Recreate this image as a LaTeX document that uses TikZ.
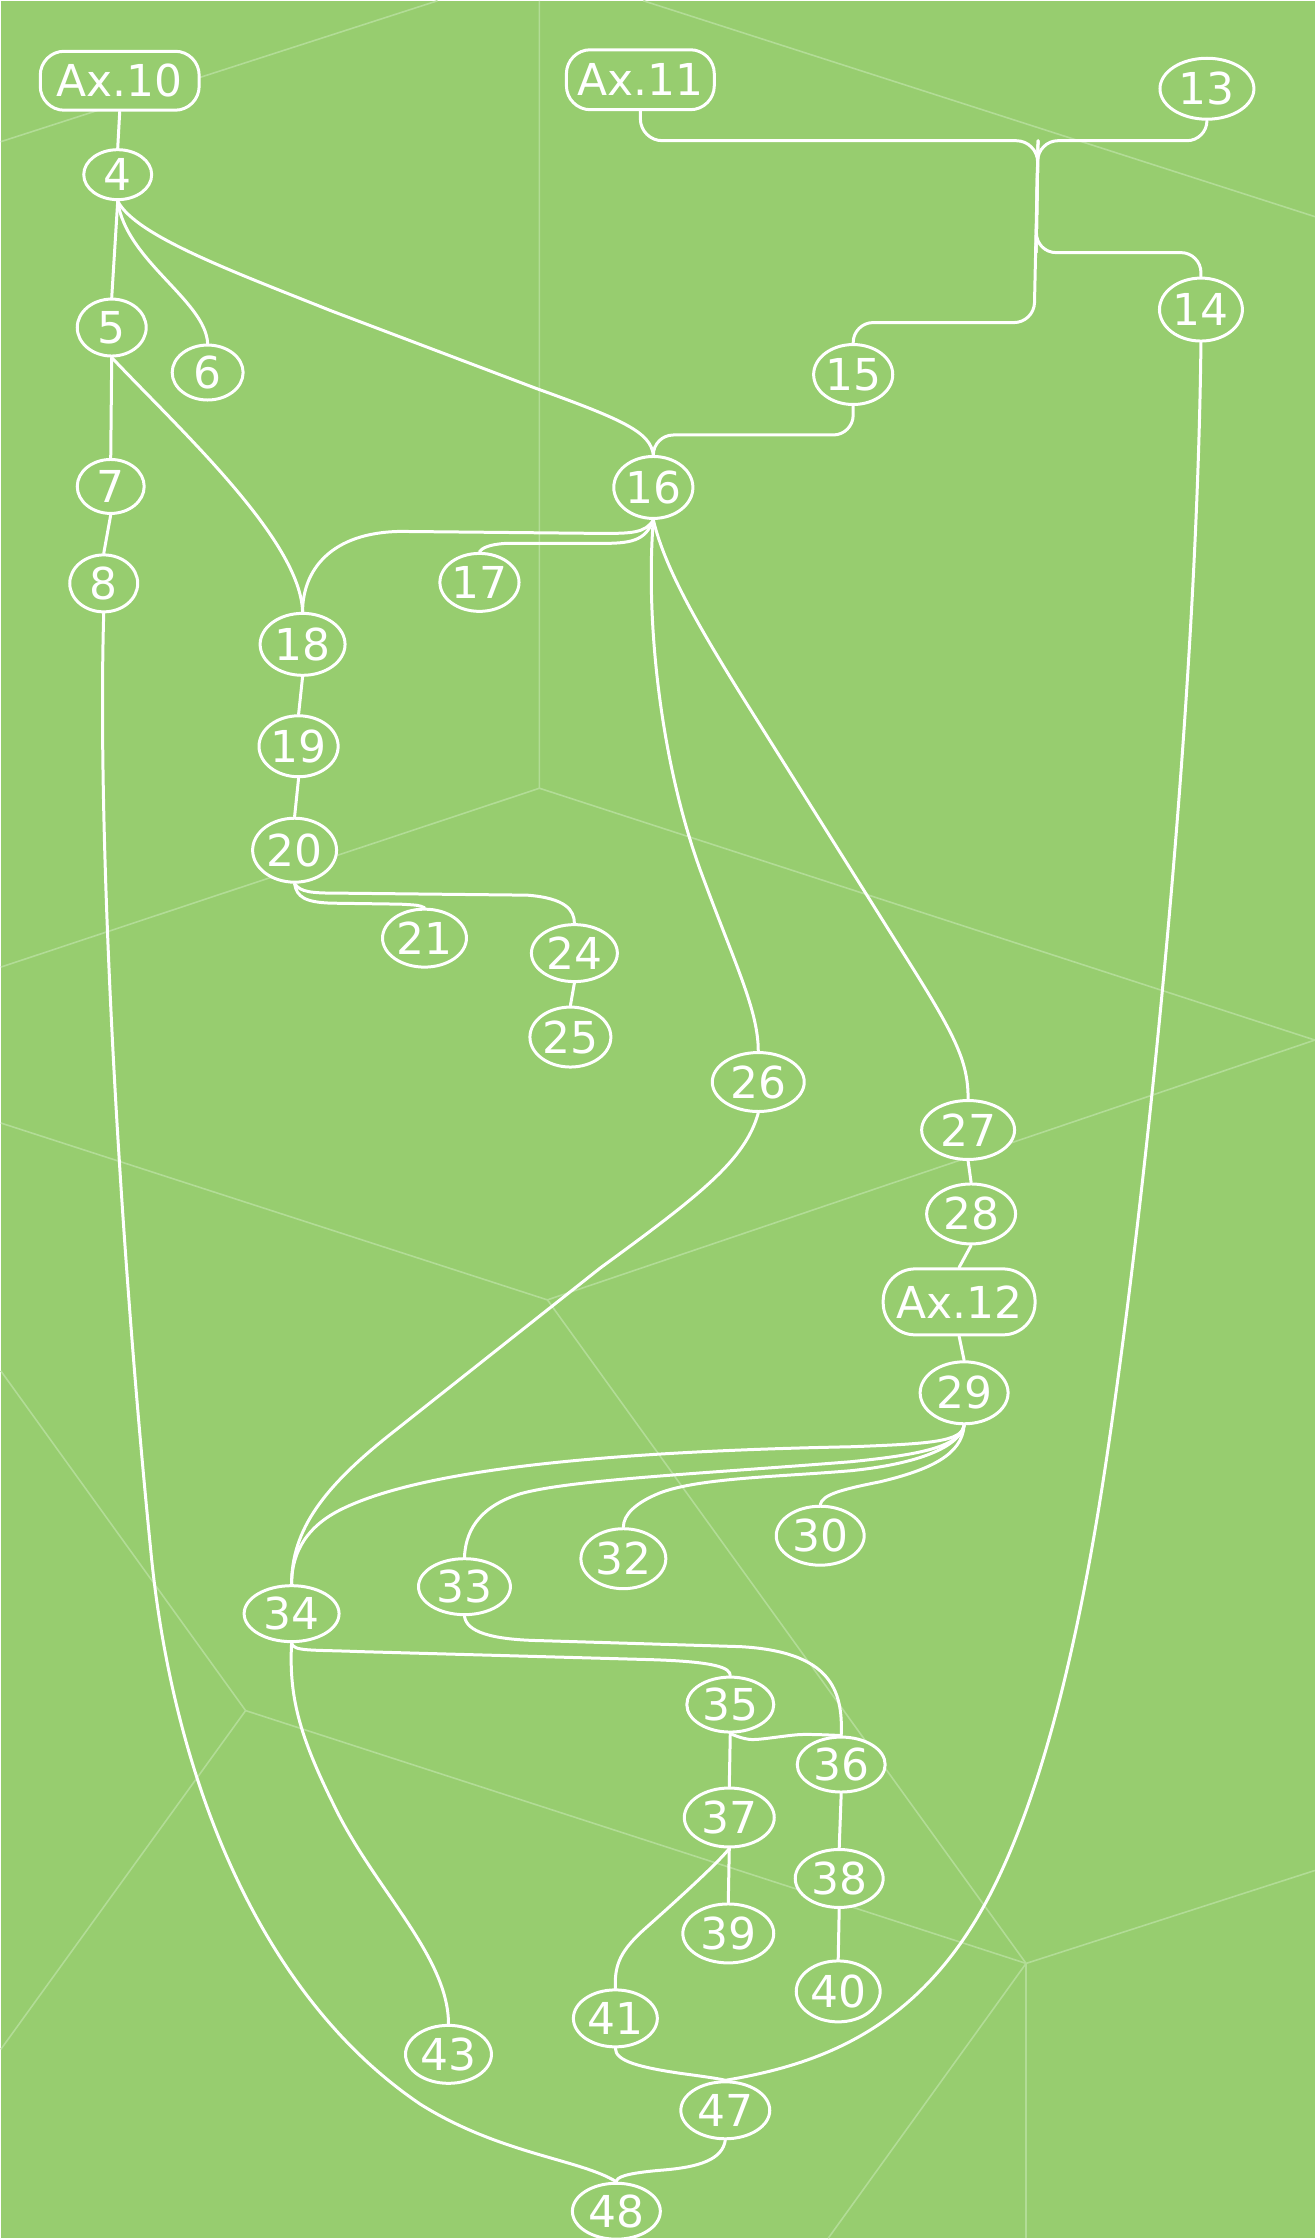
\documentclass[tikz,border=0pt]{standalone}
\usepackage{fontspec}
\setmainfont{DejaVu Sans}
\usetikzlibrary{shapes.geometric}
\definecolor{bg}{RGB}{151,205,111}
\definecolor{faint}{RGB}{178,220,150}
\pgfdeclarelayer{back}
\pgfdeclarelayer{edges}
\pgfsetlayers{back,edges,main}
\begin{document}
\begin{tikzpicture}[x=0.5pt,y=-0.5pt,
  nd/.style={ellipse, draw=white, line width=1.5pt, fill=bg, text=white, inner sep=0pt,
             font=\fontsize{22}{22}\selectfont},
  axn/.style={rectangle, rounded corners=12pt, draw=white, line width=1.5pt, fill=bg, text=white,
             inner sep=0pt, font=\fontsize{22}{22}\selectfont},
  sz/.style n args={2}{minimum width=#1, minimum height=#2},
  ed/.style={draw=white, line width=1.5pt, line cap=round, line join=round},
  sm/.style={smooth, tension=0.5},
  faintline/.style={draw=faint, line width=0.8pt}]
\begin{pgfonlayer}{back}
\fill[bg] (0,0) rectangle (1315,2239);
\draw[faintline] (0,141) -- (437,0);
\draw[faintline] (539,0) -- (539,788) -- (0,967);
\draw[faintline] (539,788) -- (1315,1040);
\draw[faintline] (643,0) -- (1315,216);
\draw[faintline] (0,1123) -- (547,1300) -- (1315,1040);
\draw[faintline] (547,1300) -- (1026,1964);
\draw[faintline] (0,1371) -- (245,1711) -- (0,2050);
\draw[faintline] (245,1711) -- (1026,1964) -- (1315,1871);
\draw[faintline] (1026,1964) -- (828,2239);
\draw[faintline] (1026,1964) -- (1026,2239);
\end{pgfonlayer}
\useasboundingbox (0,0) rectangle (1315,2239);

% nodes
\node[axn, sz={79.5pt}{29.5pt}] (Ax10) at (119,80) {Ax.10};
\node[axn, sz={74pt}{30pt}] (Ax11) at (640,79) {Ax.11};
\node[nd, sz={47pt}{30.5pt}] (n13) at (1207,88) {13};
\node[nd, sz={34pt}{25pt}] (n4) at (117,174) {4};
\node[nd, sz={34.5pt}{28.5pt}] (n5) at (111,327) {5};
\node[nd, sz={35.5pt}{27.5pt}] (n6) at (207,372) {6};
\node[nd, sz={41.5pt}{31.5pt}] (n14) at (1201,309) {14};
\node[nd, sz={39.5pt}{30pt}] (n15) at (853,374) {15};
\node[nd, sz={39.5pt}{31pt}] (n16) at (653,487) {16};
\node[nd, sz={33.5pt}{27pt}] (n7) at (110,486) {7};
\node[nd, sz={34pt}{28.5pt}] (n8) at (103,583) {8};
\node[nd, sz={39pt}{29pt}] (n17) at (479,582) {17};
\node[nd, sz={42.5pt}{31pt}] (n18) at (302,644) {18};
\node[nd, sz={39.5pt}{30.5pt}] (n19) at (298,746) {19};
\node[nd, sz={42pt}{32pt}] (n20) at (294,850) {20};
\node[nd, sz={42pt}{29pt}] (n21) at (424,938) {21};
\node[nd, sz={43pt}{28.5pt}] (n24) at (574,953) {24};
\node[nd, sz={40.5pt}{30pt}] (n25) at (570,1037) {25};
\node[nd, sz={46pt}{29.5pt}] (n26) at (758,1082) {26};
\node[nd, sz={46.5pt}{29.5pt}] (n27) at (968,1130) {27};
\node[nd, sz={44.5pt}{30pt}] (n28) at (971,1214) {28};
\node[axn, rounded corners=16pt, sz={76pt}{33pt}] (Ax12) at (959,1302) {Ax.12};
\node[nd, sz={44pt}{31pt}] (n29) at (964,1393) {29};
\node[nd, sz={44pt}{29.5pt}] (n30) at (820,1536) {30};
\node[nd, sz={42.5pt}{30pt}] (n32) at (623,1559) {32};
\node[nd, sz={46pt}{28pt}] (n33) at (464,1587) {33};
\node[nd, sz={47.5pt}{28pt}] (n34) at (291,1614) {34};
\node[nd, sz={43.5pt}{27.5pt}] (n35) at (730,1705) {35};
\node[nd, sz={44pt}{27.5pt}] (n36) at (841,1765) {36};
\node[nd, sz={45pt}{29.5pt}] (n37) at (729,1818) {37};
\node[nd, sz={44pt}{29pt}] (n38) at (839,1879) {38};
\node[nd, sz={45.5pt}{29.5pt}] (n39) at (728,1934) {39};
\node[nd, sz={42pt}{30.5pt}] (n40) at (838,1992) {40};
\node[nd, sz={42pt}{28.5pt}] (n41) at (615,2019) {41};
\node[nd, sz={43pt}{29pt}] (n43) at (448,2055) {43};
\node[nd, sz={44.5pt}{28.5pt}] (n47) at (725,2111) {47};
\node[nd, sz={44pt}{28pt}] (n48) at (616,2212) {48};

\coordinate (jA) at (1038,140);
\coordinate (jB) at (1036,252);
\coordinate (jC) at (1034,322);

\begin{pgfonlayer}{edges}
% straight links
\draw[ed] (Ax10.south) -- (n4.north);
\draw[ed] (n4.south) -- (n5.north);
\draw[ed] (n5.south) -- (n7.north);
\draw[ed] (n7.south) -- (n8.north);
\draw[ed] (n18.south) -- (n19.north);
\draw[ed] (n19.south) -- (n20.north);
\draw[ed] (n24.south) -- (n25.north);
\draw[ed] (n27.south) -- (n28.north);
\draw[ed] (n28.south) -- (Ax12.north);
\draw[ed] (Ax12.south) -- (n29.north);
\draw[ed] (n35.south) -- (n37.north);
\draw[ed] (n36.south) -- (n38.north);
\draw[ed] (n38.south) -- (n40.north);
\draw[ed] (n37.south) -- (n39.north);
% upper part
\draw[ed] (n4.south) .. controls (125,260) and (205,300) .. (n6.north);
\draw[ed] (n4.south) .. controls (135,235) and (230,270) .. (330,310) -- (536,388)
          .. controls (625,420) and (650,432) .. (n16.north);
\draw[ed, rounded corners=11pt] (Ax11.south) |- (jA) -- (jB);
\draw[ed, rounded corners=10pt] (n13.south) |- (jA) -- (jB);
\draw[ed, rounded corners=10pt] (jA) -- (jB) -| (n14.north);
\draw[ed, rounded corners=10pt] (jA) -- (jC) -| (n15.north);
\draw[ed, rounded corners=10pt] (n15.south) -- ++(0,29) -| (n16.north);
\draw[ed] (n16.south) .. controls (645,533) and (630,533) .. (600,533) -- (400,531)
          .. controls (330,532) and (302,570) .. (n18.north);
\draw[ed] (n16.south) .. controls (645,541) and (630,543) .. (600,543) -- (505,543)
          .. controls (488,544) and (481,548) .. (n17.north);
\draw[ed] (n5.south) .. controls (180,430) and (300,540) .. (n18.north);
\draw[ed] (n20.south) .. controls (296,897) and (305,902) .. (330,903) -- (400,904)
          .. controls (418,905) .. (n21.north);
\draw[ed] (n20.south) .. controls (300,892) and (310,893) .. (340,893) -- (527,895)
          .. controls (565,898) and (574,910) .. (n24.north);
% long curves
\draw[ed] (n8.south) .. controls (96,850) and (120,1250) .. (150,1550)
          .. controls (170,1760) and (250,1990) .. (420,2105)
          .. controls (500,2155) and (580,2160) .. (n48.north);
\draw[ed] (n16.south) .. controls (645,620) and (660,760) .. (700,870)
          .. controls (735,965) and (758,1010) .. (n26.north);
\draw[ed] (n16.south) .. controls (665,570) and (700,630) .. (760,725) -- (900,948)
          .. controls (955,1035) and (968,1060) .. (n27.north);
\draw[ed] (n14.south) .. controls (1197,700) and (1150,1150) .. (1115,1400)
          .. controls (1095,1545) and (1060,1760) .. (990,1895)
          .. controls (920,2030) and (820,2065) .. (n47.north);
\draw[ed] (n26.south) .. controls (745,1160) and (700,1195) .. (600,1268) -- (393,1432)
          .. controls (323,1487) and (291,1530) .. (n34.north);
% fan from 29
\draw[ed] (n29.south) .. controls (962,1442) and (930,1444) .. (850,1447)
          .. controls (600,1452) and (420,1470) .. (340,1510)
          .. controls (300,1530) and (291,1560) .. (n34.north);
\draw[ed] (n29.south) .. controls (960,1447) and (920,1455) .. (850,1462)
          .. controls (700,1474) and (570,1480) .. (520,1494)
          .. controls (475,1508) and (465,1535) .. (n33.north);
\draw[ed] (n29.south) .. controls (958,1450) and (910,1465) .. (850,1471)
          .. controls (780,1477) and (700,1478) .. (660,1493)
          .. controls (635,1503) and (623,1515) .. (n32.north);
\draw[ed] (n29.south) .. controls (962,1455) and (930,1470) .. (880,1482)
          .. controls (840,1490) and (822,1495) .. (n30.north);
% lower part
\draw[ed] (n33.south) .. controls (466,1632) and (490,1640) .. (540,1641) -- (740,1647)
          .. controls (830,1652) and (843,1690) .. (n36.north);
\draw[ed] (n34.south) .. controls (293,1652) and (310,1650) .. (360,1652) -- (650,1660)
          .. controls (715,1662) and (730,1668) .. (n35.north);
\draw[ed] plot[sm] coordinates {(n35.south) (752,1740) (800,1735) (n36.north)};
\draw[ed] (n37.south) .. controls (722,1858) and (700,1880) .. (646,1928)
          .. controls (620,1951) and (614,1965) .. (n41.north);
\draw[ed] (n41.south) .. controls (615,2062) and (640,2068) .. (680,2074)
          .. controls (710,2078) and (722,2080) .. (n47.north);
\draw[ed] (n47.south) .. controls (722,2160) and (700,2168) .. (660,2171)
          .. controls (625,2174) and (616,2178) .. (n48.north);
\draw[ed] (n34.south) .. controls (288,1700) and (300,1740) .. (339,1817)
          .. controls (380,1895) and (448,1960) .. (n43.north);
\end{pgfonlayer}
\end{tikzpicture}
\end{document}
